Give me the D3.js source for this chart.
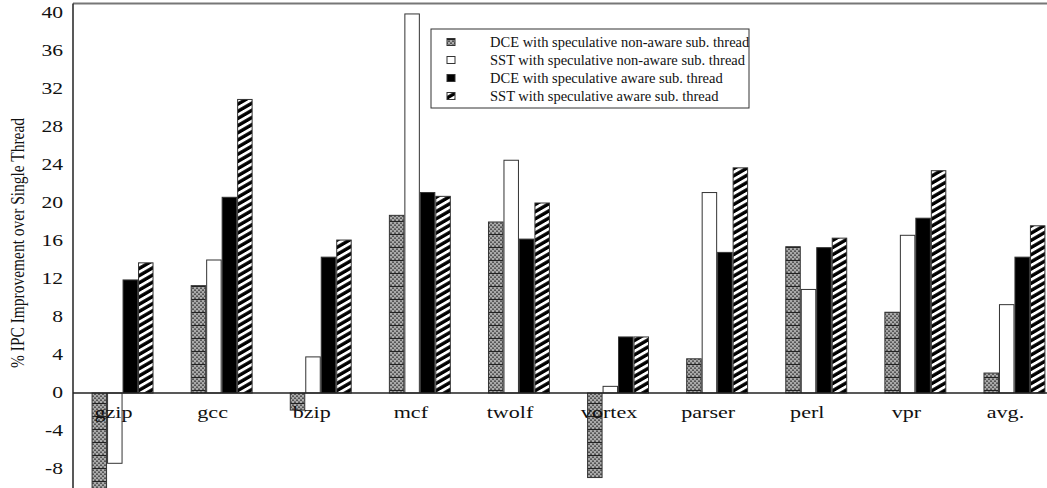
<!DOCTYPE html>
<html lang="en">
<head>
  <meta charset="UTF-8">
  <title>IPC Improvement</title>
  <script src="https://d3js.org/d3.v7.min.js"></script>
  <style>
    body { margin: 0; background: #fff; }
    text { font-family: "Liberation Serif", "DejaVu Serif", serif; fill: #111; }
  </style>
</head>
<body>
  <div id="chart"></div>
  <script>
    const width = 1047, height = 488;

    const categories = ["gzip", "gcc", "bzip", "mcf", "twolf", "vortex", "parser", "perl", "vpr", "avg."];
    const seriesNames = [
      "DCE with speculative non-aware sub. thread",
      "SST with speculative non-aware sub. thread",
      "DCE with speculative aware sub. thread",
      "SST with speculative aware sub. thread"
    ];
    const dceNonAware = [-10.5, 11.3, -1.8, 18.7, 18.0, -8.9, 3.6, 15.4, 8.5, 2.1];
    const sstNonAware = [-7.4, 14.0, 3.8, 39.9, 24.5, 0.7, 21.1, 10.9, 16.6, 9.3];
    const dceAware = [11.9, 20.6, 14.3, 21.1, 16.2, 5.9, 14.8, 15.3, 18.4, 14.3];
    const sstAware = [13.7, 30.9, 16.1, 20.7, 20.0, 5.9, 23.7, 16.3, 23.4, 17.6];
    const yTicks = [-8, -4, 0, 4, 8, 12, 16, 20, 24, 28, 32, 36, 40];

    const seriesValues = [dceNonAware, sstNonAware, dceAware, sstAware];
    const fills = ["url(#checker)", "#fff", "#000", "url(#stripes)"];

    const svg = d3.select("#chart").append("svg")
      .attr("width", width)
      .attr("height", height);

    const defs = svg.append("defs");
    // gray checker with periodic dark rules
    const chk = defs.append("pattern").attr("id", "checker")
      .attr("patternUnits", "userSpaceOnUse").attr("width", 4).attr("height", 13);
    chk.append("rect").attr("width", 4).attr("height", 13).attr("fill", "#aaa");
    for (let r = 0; r < 13; r += 2) {
      chk.append("rect").attr("x", (r / 2) % 2 ? 0 : 2).attr("y", r).attr("width", 2).attr("height", 1).attr("fill", "#555");
      chk.append("rect").attr("x", (r / 2) % 2 ? 2 : 0).attr("y", r + 1).attr("width", 2).attr("height", 1).attr("fill", "#777");
    }
    chk.append("rect").attr("y", 0).attr("width", 4).attr("height", 1).attr("fill", "#222");

    const str = defs.append("pattern").attr("id", "stripes")
      .attr("patternUnits", "userSpaceOnUse").attr("width", 10).attr("height", 6.2)
      .attr("patternTransform", "rotate(-30)");
    str.append("rect").attr("width", 10).attr("height", 6.2).attr("fill", "#000");
    str.append("rect").attr("width", 10).attr("height", 2.8).attr("fill", "#fff");

    const x0 = d3.scaleBand().domain(categories).range([73, 1064])
      .paddingInner(0.375).paddingOuter(0.1875);
    const x1 = d3.scaleBand().domain(d3.range(4)).range([0, x0.bandwidth()]);
    const y = d3.scaleLinear().domain([-10, 41]).range([488, 3.5]);

    // frame
    svg.append("line").attr("x1", 73).attr("x2", width).attr("y1", y(41)).attr("y2", y(41))
      .attr("stroke", "#777").attr("stroke-width", 2);

    const bars = svg.append("g");
    seriesValues.forEach((vals, s) => {
      bars.selectAll(null).data(vals).enter().append("rect")
        .attr("x", (d, i) => x0(categories[i]) + x1(s) + 0.5)
        .attr("y", d => y(Math.max(0, d)))
        .attr("width", x1.bandwidth() - 1)
        .attr("height", d => Math.abs(y(d) - y(0)))
        .attr("fill", fills[s])
        .attr("stroke", "#333")
        .attr("stroke-width", 1);
    });

    // zero line and y axis
    svg.append("line").attr("x1", 73).attr("x2", width).attr("y1", y(0)).attr("y2", y(0))
      .attr("stroke", "#222").attr("stroke-width", 1.5);
    svg.append("line").attr("x1", 73).attr("x2", 73).attr("y1", y(41)).attr("y2", height)
      .attr("stroke", "#222").attr("stroke-width", 1.5);

    svg.append("g").selectAll("text").data(yTicks).enter().append("text")
      .attr("text-anchor", "end")
      .attr("transform", d => `translate(63,${y(d) + 5}) scale(1.35,1)`)
      .style("font-size", "16px")
      .text(d => d);

    svg.append("g").selectAll("text").data(categories).enter().append("text")
      .attr("text-anchor", "middle")
      .attr("transform", d => `translate(${x0(d) + x0.bandwidth() / 2 - 9},418) scale(1.3,1)`)
      .style("font-size", "17px")
      .text(d => d);

    svg.append("text")
      .attr("text-anchor", "middle")
      .attr("transform", "translate(24,243) rotate(-90) scale(0.86,1)")
      .style("font-size", "18px")
      .text("% IPC Improvement over Single Thread");

    // legend
    const lg = svg.append("g");
    lg.append("rect").attr("x", 431).attr("y", 29).attr("width", 318).attr("height", 79)
      .attr("fill", "#fff").attr("stroke", "#333").attr("stroke-width", 1);
    seriesNames.forEach((name, i) => {
      const cy = 42 + i * 18;
      lg.append("rect").attr("x", 447).attr("y", cy - 3.5).attr("width", 8).attr("height", 7)
        .attr("fill", fills[i]).attr("stroke", "#333").attr("stroke-width", 1);
      lg.append("text").attr("x", 490).attr("y", cy + 5)
        .style("font-size", "14.5px").text(name);
    });
  </script>
</body>
</html>
